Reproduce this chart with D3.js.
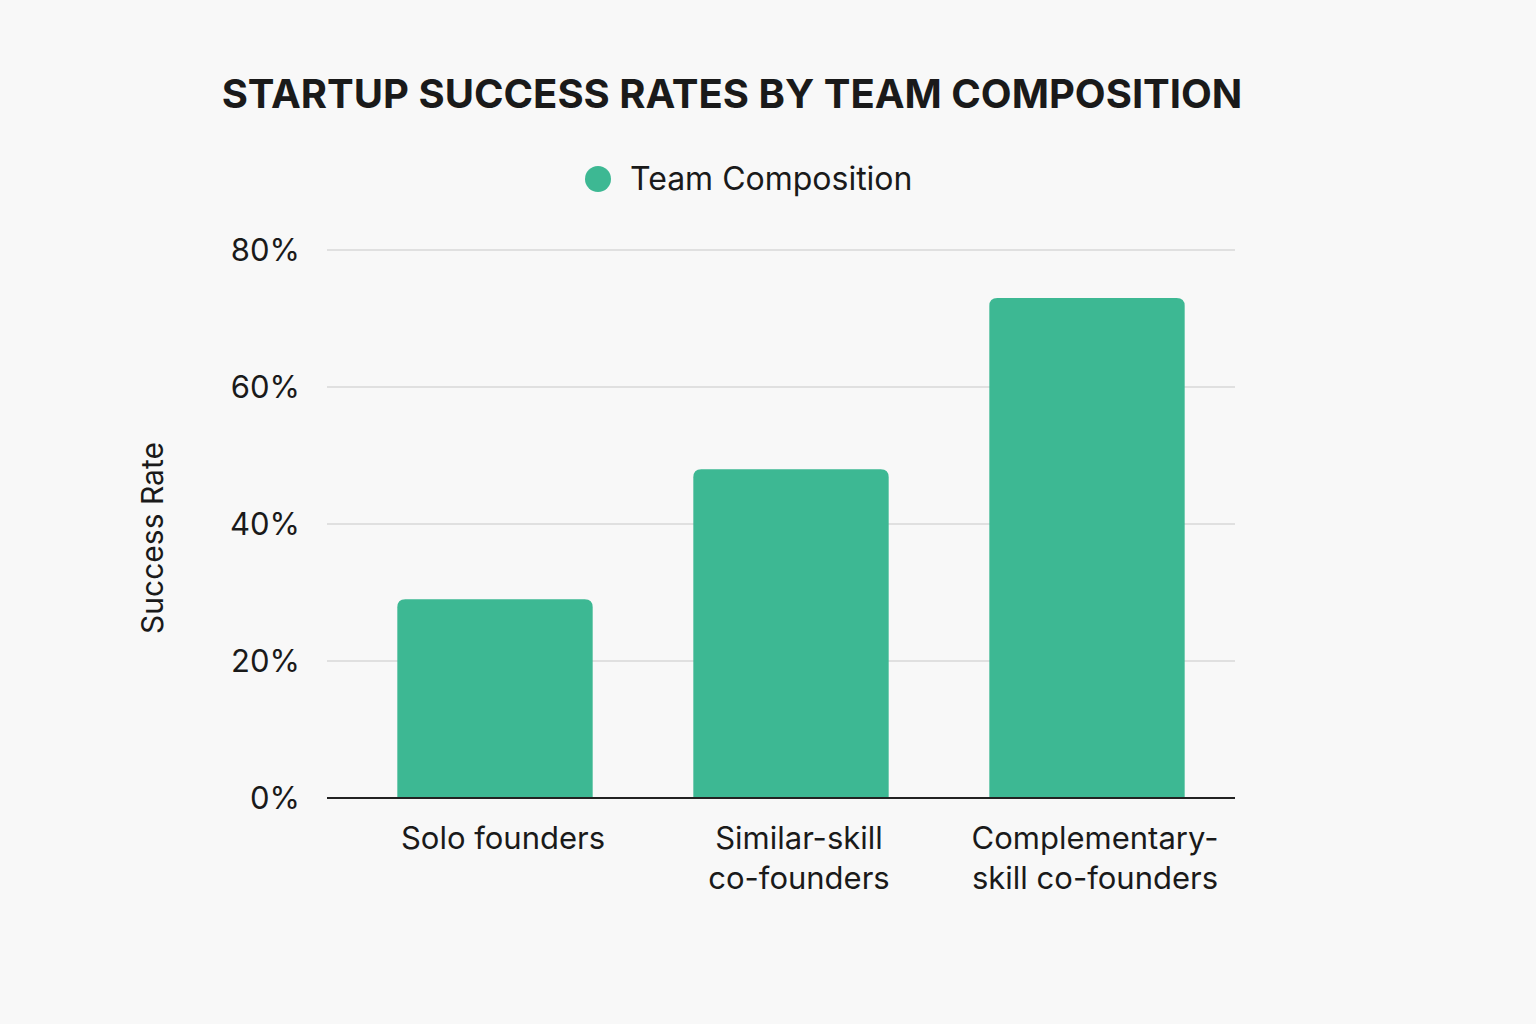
<!DOCTYPE html>
<html>
<head>
<meta charset="utf-8">
<script src="https://cdn.jsdelivr.net/npm/d3@7"></script>
<style>
  body { margin: 0; background: #f8f8f8; }
  text { font-family: Inter, "Noto Sans", sans-serif; fill: #1a1a1a; }
</style>
</head>
<body>
<svg id="chart" width="1536" height="1024"></svg>
<script>
var categories = [["Solo founders"], ["Similar-skill", "co-founders"], ["Complementary-", "skill co-founders"]];
var successRates = [29, 48, 73];
var yTicks = [0, 20, 40, 60, 80];

var svg = d3.select("#chart");
svg.append("rect").attr("width", 1536).attr("height", 1024).attr("fill", "#f8f8f8");

var x = d3.scaleBand().domain(d3.range(categories.length)).range([347, 1235])
  .paddingInner(0.34).paddingOuter(0.17);
var y = d3.scaleLinear().domain([0, 80]).range([798, 250]);

// title
svg.append("text").attr("x", 732).attr("y", 108).attr("text-anchor", "middle")
  .attr("font-size", 40).attr("font-weight", 700).text("STARTUP SUCCESS RATES BY TEAM COMPOSITION");

// legend
svg.append("circle").attr("cx", 598).attr("cy", 179).attr("r", 13).attr("fill", "#3db893");
svg.append("text").attr("x", 630).attr("y", 190).attr("font-size", 32).text("Team Composition");

// grid
svg.selectAll("line.grid").data(yTicks.slice(1)).enter().append("line")
  .attr("x1", 327).attr("x2", 1235)
  .attr("y1", function(d) { return y(d); }).attr("y2", function(d) { return y(d); })
  .attr("stroke", "#c8c8c8").attr("stroke-width", 1.2);

svg.selectAll("text.ytick").data(yTicks).enter().append("text")
  .attr("x", 300).attr("y", function(d) { return y(d) + 11; })
  .attr("text-anchor", "end").attr("font-size", 31)
  .text(function(d) { return d + "%"; });

// y title
svg.append("text").attr("transform", "translate(163,538) rotate(-90)")
  .attr("text-anchor", "middle").attr("font-size", 30).text("Success Rate");

// bars
svg.selectAll("path.bar").data(successRates).enter().append("path")
  .attr("fill", "#3db893")
  .attr("d", function(d, i) {
    var x0 = x(i), w = x.bandwidth(), t = y(d), b = y(0), r = 8;
    return "M" + x0 + "," + b + "V" + (t + r) + "Q" + x0 + "," + t + " " + (x0 + r) + "," + t +
      "H" + (x0 + w - r) + "Q" + (x0 + w) + "," + t + " " + (x0 + w) + "," + (t + r) + "V" + b + "Z";
  });

// baseline
svg.append("line").attr("x1", 327).attr("x2", 1235).attr("y1", y(0)).attr("y2", y(0))
  .attr("stroke", "#222").attr("stroke-width", 2);

// x labels
var lab = svg.selectAll("text.xlab").data(categories).enter().append("text")
  .attr("text-anchor", "middle").attr("font-size", 31)
  .attr("x", function(d, i) { return x(i) + x.bandwidth() / 2 + 8; })
  .attr("y", 849);
lab.selectAll("tspan").data(function(d) { return d; }).enter().append("tspan")
  .attr("x", function() { return d3.select(this.parentNode).attr("x"); })
  .attr("dy", function(d, j) { return j ? 40 : 0; })
  .text(function(d) { return d; });
</script>
</body>
</html>
